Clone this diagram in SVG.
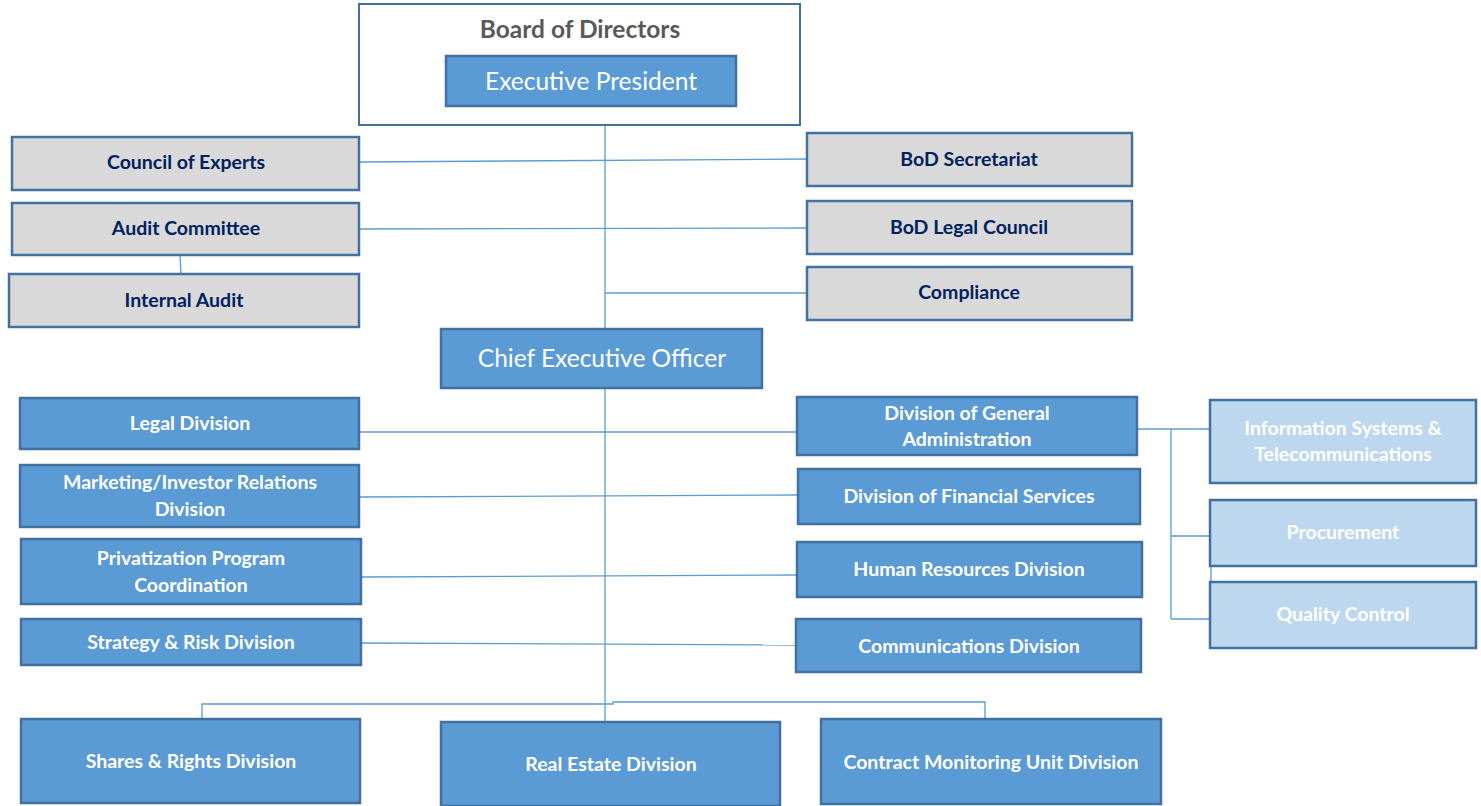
<svg xmlns="http://www.w3.org/2000/svg" width="1481" height="806" viewBox="0 0 1481 806">
  <style>
    .line { stroke: #5B9BD5; stroke-width: 1.3; fill: none; }
    .board { fill: #FFFFFF; stroke: #41719C; stroke-width: 2; }
    .grey { fill: #D9D9D9; stroke: #41719C; stroke-width: 2.5; }
    .blue { fill: #5B9BD5; stroke: #41719C; stroke-width: 2.5; }
    .pale { fill: #BDD7EE; stroke: #41719C; stroke-width: 2.5; }
    text { font-family: Lato, "Open Sans", "Liberation Sans", sans-serif; text-anchor: middle; }
    .t-board { font-size: 24.5px; font-weight: bold; fill: #595959; }
    .t-big { font-size: 24.5px; fill: #FFFFFF; }
    .t-grey { font-size: 19.5px; font-weight: bold; fill: #002060; }
    .t-blue { font-size: 19.5px; font-weight: bold; fill: #FFFFFF; }
  </style>

  <!-- reporting lines -->
  <g id="connectors">
    <line class="line" x1="605" y1="125" x2="605" y2="722"/>
    <line class="line" x1="359" y1="162" x2="807" y2="159"/>
    <line class="line" x1="359" y1="229" x2="807" y2="228"/>
    <line class="line" x1="180" y1="255" x2="181" y2="274"/>
    <line class="line" x1="605" y1="293" x2="807" y2="293"/>
    <line class="line" x1="359" y1="432" x2="797" y2="432"/>
    <line class="line" x1="359" y1="497" x2="798" y2="495"/>
    <line class="line" x1="361" y1="577" x2="797" y2="575"/>
    <line class="line" x1="361" y1="643" x2="796" y2="645"/>
    <line class="line" x1="1137" y1="429" x2="1210" y2="429"/>
    <line class="line" x1="1171" y1="429" x2="1171" y2="619"/>
    <line class="line" x1="1171" y1="536" x2="1210" y2="536"/>
    <line class="line" x1="1171" y1="619" x2="1210" y2="619"/>
    <line class="line" x1="1211" y1="566" x2="1211" y2="582"/>
    <polyline class="line" points="202,719 202,704 613,704 613,702 985,702 985,719"/>
  </g>

  <g id="board-of-directors">
    <rect class="board" x="359" y="4" width="441" height="121"/>
    <text class="t-board" x="580" y="38">Board of Directors</text>
  </g>
  <g id="executive-president">
    <rect class="blue" x="446" y="56" width="290" height="50"/>
    <text class="t-big" x="591" y="90">Executive President</text>
  </g>

  <g id="council-of-experts">
    <rect class="grey" x="12" y="137" width="347" height="53"/>
    <text class="t-grey" x="186" y="169">Council of Experts</text>
  </g>
  <g id="audit-committee">
    <rect class="grey" x="12" y="203" width="347" height="52"/>
    <text class="t-grey" x="186" y="235">Audit Committee</text>
  </g>
  <g id="internal-audit">
    <rect class="grey" x="9" y="274" width="350" height="53"/>
    <text class="t-grey" x="184" y="307">Internal Audit</text>
  </g>
  <g id="bod-secretariat">
    <rect class="grey" x="807" y="133" width="325" height="53"/>
    <text class="t-grey" x="969" y="166">BoD Secretariat</text>
  </g>
  <g id="bod-legal-council">
    <rect class="grey" x="807" y="201" width="325" height="53"/>
    <text class="t-grey" x="969" y="234">BoD Legal Council</text>
  </g>
  <g id="compliance">
    <rect class="grey" x="807" y="267" width="325" height="53"/>
    <text class="t-grey" x="969" y="299">Compliance</text>
  </g>

  <g id="ceo">
    <rect class="blue" x="441" y="329" width="321" height="59"/>
    <text class="t-big" x="602" y="367">Chief Executive Officer</text>
  </g>

  <g id="legal-division">
    <rect class="blue" x="20" y="398" width="339" height="51"/>
    <text class="t-blue" x="190" y="430">Legal Division</text>
  </g>
  <g id="marketing-division">
    <rect class="blue" x="20" y="465" width="339" height="62"/>
    <text class="t-blue" x="190" y="489">Marketing/Investor Relations</text>
    <text class="t-blue" x="190" y="516">Division</text>
  </g>
  <g id="privatization-coordination">
    <rect class="blue" x="21" y="539" width="340" height="65"/>
    <text class="t-blue" x="191" y="565">Privatization Program</text>
    <text class="t-blue" x="191" y="592">Coordination</text>
  </g>
  <g id="strategy-risk-division">
    <rect class="blue" x="21" y="619" width="340" height="46"/>
    <text class="t-blue" x="191" y="649">Strategy &amp; Risk Division</text>
  </g>

  <g id="general-administration">
    <rect class="blue" x="797" y="397" width="340" height="58"/>
    <text class="t-blue" x="967" y="420">Division of General</text>
    <text class="t-blue" x="967" y="446">Administration</text>
  </g>
  <g id="financial-services">
    <rect class="blue" x="798" y="469" width="342" height="55"/>
    <text class="t-blue" x="969" y="503">Division of Financial Services</text>
  </g>
  <g id="human-resources">
    <rect class="blue" x="797" y="542" width="345" height="55"/>
    <text class="t-blue" x="969" y="576">Human Resources Division</text>
  </g>
  <g id="communications">
    <rect class="blue" x="796" y="619" width="345" height="53"/>
    <text class="t-blue" x="969" y="653">Communications Division</text>
  </g>

  <g id="information-systems">
    <rect class="pale" x="1210" y="400" width="266" height="83"/>
    <text class="t-blue" x="1343" y="435">Information Systems &amp;</text>
    <text class="t-blue" x="1343" y="461">Telecommunications</text>
  </g>
  <g id="procurement">
    <rect class="pale" x="1210" y="500" width="266" height="66"/>
    <text class="t-blue" x="1343" y="539">Procurement</text>
  </g>
  <g id="quality-control">
    <rect class="pale" x="1210" y="582" width="266" height="66"/>
    <text class="t-blue" x="1343" y="621">Quality Control</text>
  </g>

  <g id="shares-rights">
    <rect class="blue" x="21" y="719" width="339" height="84"/>
    <text class="t-blue" x="191" y="768">Shares &amp; Rights Division</text>
  </g>
  <g id="real-estate">
    <rect class="blue" x="441" y="722" width="339" height="84"/>
    <text class="t-blue" x="611" y="771">Real Estate Division</text>
  </g>
  <g id="contract-monitoring">
    <rect class="blue" x="821" y="719" width="340" height="85"/>
    <text class="t-blue" x="991" y="769">Contract Monitoring Unit Division</text>
  </g>
</svg>
